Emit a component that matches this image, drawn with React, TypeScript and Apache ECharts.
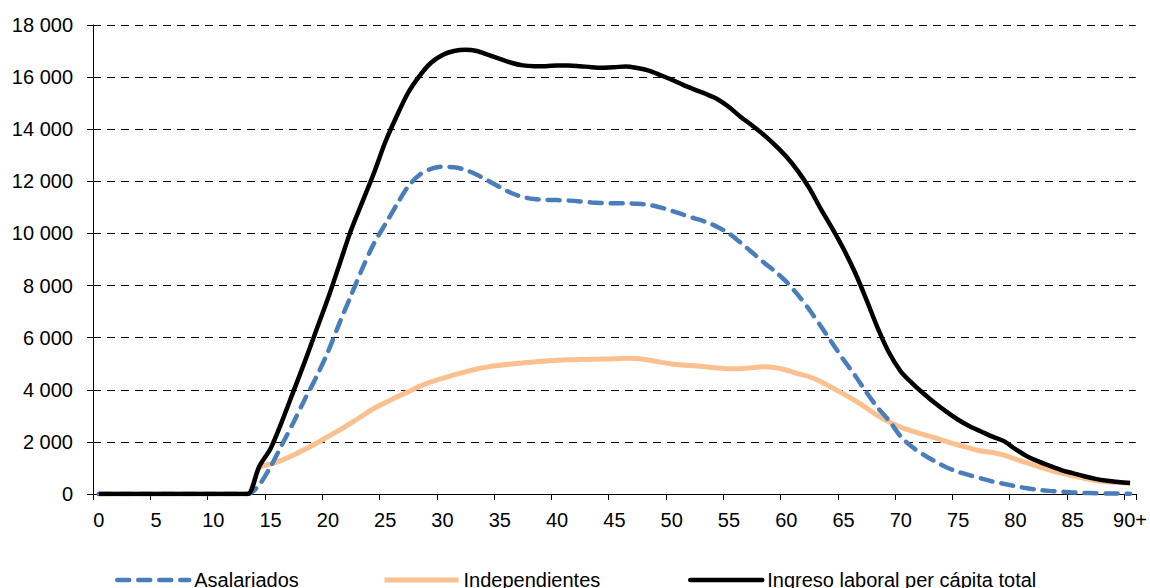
import React, { useEffect, useRef } from "react";
import * as echarts from "echarts";

const ages: string[] = [];
for (let i = 0; i <= 90; i++) ages.push(i === 90 ? "90+" : String(i));

const seriesNames = ["Asalariados", "Independientes", "Ingreso laboral per cápita total"];

// Asalariados (ages 0..90)
const asalariados = [
  0, 0, 0, 0, 0, 0, 0, 0, 0, 0,
  0, 0, 0, 0, 350, 1050, 1900, 2750, 3650, 4500,
  5450, 6550, 7600, 8650, 9600, 10350, 11100, 11800, 12250, 12480,
  12560, 12540, 12440, 12250, 12020, 11780, 11550, 11400, 11320, 11290,
  11280, 11260, 11230, 11190, 11170, 11160, 11160, 11140, 11100, 11000,
  10870, 10720, 10580, 10440, 10250, 10000, 9650, 9280, 8900, 8550,
  8150, 7650, 7080, 6450, 5800, 5150, 4550, 3900, 3300, 2800,
  2200, 1800, 1500, 1250, 1020, 850, 720, 600, 480, 390,
  300, 220, 160, 120, 90, 60, 40, 30, 20, 15,
  10,
];

// Independientes (ages 0..90)
const independientes = [
  0, 0, 0, 0, 0, 0, 0, 0, 0, 0,
  0, 0, 0, 0, 1000, 1150, 1300, 1500, 1720, 1950,
  2200, 2450, 2720, 3000, 3280, 3500, 3720, 3920, 4130, 4300,
  4440, 4570, 4690, 4800, 4880, 4940, 4990, 5030, 5070, 5100,
  5130, 5150, 5160, 5170, 5180, 5190, 5210, 5200, 5140, 5060,
  4990, 4950, 4920, 4880, 4840, 4810, 4810, 4850, 4880, 4850,
  4760, 4620, 4500, 4320, 4080, 3840, 3580, 3300, 3000, 2760,
  2560, 2410, 2280, 2150, 2010, 1880, 1760, 1650, 1590, 1490,
  1340, 1190, 1050, 920, 800, 700, 600, 520, 470, 440,
  420,
];

// Ingreso laboral per cápita total (ages 0..90)
const total = [
  0, 0, 0, 0, 0, 0, 0, 0, 0, 0,
  0, 0, 0, 0, 1050, 1750, 2800, 3950, 5100, 6300,
  7500, 8800, 10100, 11200, 12300, 13500, 14500, 15400, 16050, 16550,
  16850, 17000, 17050, 17000, 16850, 16700, 16550, 16450, 16420, 16420,
  16450, 16450, 16420, 16380, 16360, 16380, 16410, 16350, 16250, 16080,
  15900, 15700, 15520, 15350, 15150, 14850, 14480, 14150, 13800, 13400,
  12950, 12400, 11750, 10950, 10200, 9400, 8500, 7450, 6350, 5400,
  4700, 4250, 3850, 3480, 3150, 2850, 2600, 2400, 2200, 2030,
  1720, 1450, 1250, 1080, 920, 800, 680, 580, 510, 460,
  420,
];

const yMin = 0;
const yMax = 18000;
const yStep = 2000;

const FONT = "'Liberation Sans', Arial, Helvetica, sans-serif";
const BLUE = "#4A7EBB";
const ORANGE = "#FAC090";
const BLACK = "#000000";
const DASH = [12, 9];

function fmt(v: number): string {
  return String(v).replace(/\B(?=(\d{3})+(?!\d))/g, " ");
}

export default function App() {
  const ref = useRef<HTMLDivElement>(null);
  useEffect(() => {
    if (!ref.current) return;
    const chart = echarts.init(ref.current, undefined, { renderer: "svg" });
    const legendText = { fontFamily: FONT, fontSize: 20, color: "#000" };
    const legendBase = {
      top: 570,
      padding: 0,
      itemHeight: 14,
      itemGap: 0,
      textStyle: legendText,
      itemStyle: { opacity: 0 },
    };
    chart.setOption({
      animation: false,
      backgroundColor: "#fff",
      textStyle: { fontFamily: FONT },
      grid: { left: 93, right: 14, top: 25, bottom: 94, containLabel: false },
      legend: [
        { ...legendBase, data: [seriesNames[0]], left: 115, itemWidth: 72, lineStyle: { color: BLUE, width: 4.5, type: DASH, cap: "round" } },
        { ...legendBase, data: [seriesNames[1]], left: 382, itemWidth: 74, lineStyle: { color: ORANGE, width: 5 } },
        { ...legendBase, data: [seriesNames[2]], left: 688, itemWidth: 72, lineStyle: { color: BLACK, width: 4.5, cap: "round" } },
      ],
      xAxis: {
        type: "category",
        data: ages,
        boundaryGap: true,
        axisLine: { lineStyle: { color: "#000", width: 1 } },
        axisTick: { show: true, interval: 4, length: 6, lineStyle: { color: "#000" } },
        axisLabel: { interval: 4, margin: 16, fontSize: 20, color: "#000", fontFamily: FONT },
        splitLine: { show: false },
      },
      yAxis: {
        type: "value",
        min: yMin,
        max: yMax,
        interval: yStep,
        axisLine: { show: true, lineStyle: { color: "#000", width: 1 } },
        axisTick: { show: true, length: 6, lineStyle: { color: "#000" } },
        axisLabel: { margin: 20, fontSize: 20, color: "#000", fontFamily: FONT, formatter: (v: number) => fmt(v) },
        splitLine: { show: true, lineStyle: { color: "#000", width: 1, type: [8, 6] } },
      },
      series: [
        {
          name: seriesNames[1],
          type: "line",
          data: independientes,
          smooth: 0.3,
          symbol: "none",
          color: ORANGE,
          lineStyle: { color: ORANGE, width: 5 },
          z: 2,
        },
        {
          name: seriesNames[0],
          type: "line",
          data: asalariados,
          smooth: 0.3,
          symbol: "none",
          color: BLUE,
          lineStyle: { color: BLUE, width: 4.5, type: DASH, cap: "round" },
          z: 3,
        },
        {
          name: seriesNames[2],
          type: "line",
          data: total,
          smooth: 0.3,
          symbol: "none",
          color: BLACK,
          lineStyle: { color: BLACK, width: 4.5, join: "round" },
          z: 4,
        },
      ],
    });
    return () => chart.dispose();
  }, []);
  return (
    <div
      ref={ref}
      style={{ position: "fixed", left: 0, top: 0, width: 1150, height: 588, background: "#fff" }}
    />
  );
}
